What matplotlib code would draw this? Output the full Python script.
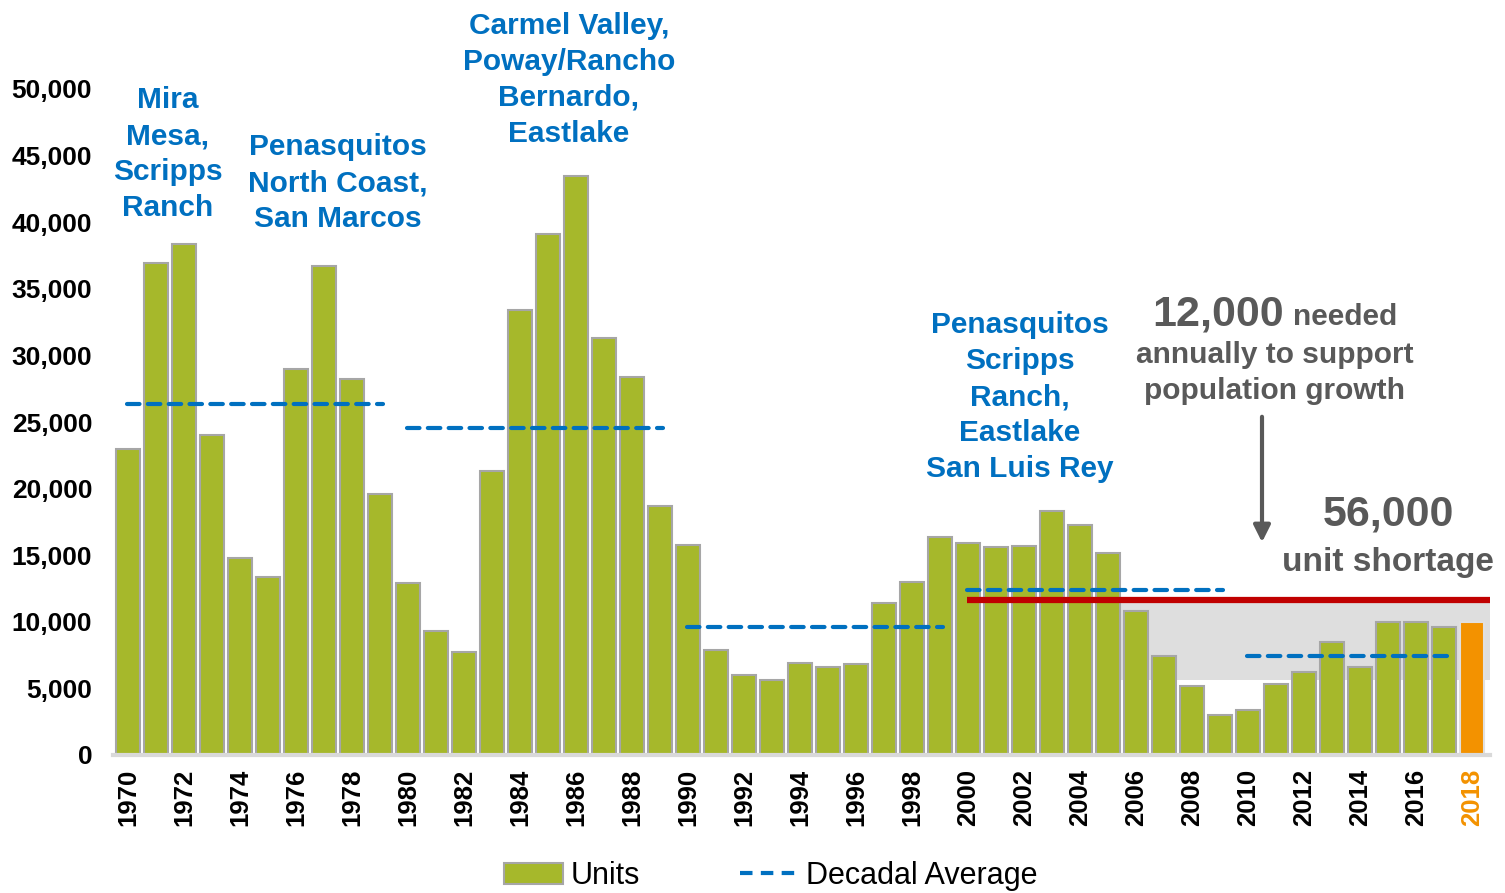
import matplotlib.pyplot as plt
import numpy as np
from matplotlib.patches import Patch, FancyArrowPatch
from matplotlib.lines import Line2D

plt.rcParams['font.family'] = ['Liberation Sans', 'DejaVu Sans']

years = list(range(1970, 2019))
units = [23000, 36900, 38400, 24000, 14800, 13400, 29000, 36700, 28200, 19600,
         12900, 9300, 7700, 21300, 33400, 39100, 43500, 31300, 28400, 18700,
         15800, 7900, 6000, 5600, 6900, 6600, 6800, 11400, 13000, 16400,
         15900, 15600, 15700, 18300, 17300, 15200, 10800, 7400, 5200, 3000,
         3400, 5300, 6200, 8500, 6600, 10000, 10000, 9600, 10000]

# decadal averages: (start year, end year, value)
dec_start = [1970, 1980, 1990, 2000, 2010]
dec_end = [1979, 1989, 1999, 2009, 2017]
dec_avg = [26350, 24550, 9600, 12400, 7450]

needed = 11650
shortage_low = 5600
shortage_from = 2005.4

green = '#A6B82B'
orange = '#F39200'
blue = '#0070C0'
gray_txt = '#595959'

W, H = 1505, 893
fig = plt.figure(figsize=(W / 100, H / 100), dpi=100)
ax = fig.add_axes([113 / W, 1 - 755 / H, (1490 - 113) / W, (755 - 89) / H])

colors = [green] * (len(years) - 1) + [orange]
edges = ['#A6A6A6'] * (len(years) - 1) + ['#E0E0E0']
ax.bar(years, units, width=0.85, color=colors, edgecolor=edges, linewidth=1.5, zorder=2)

xr = 2018.65
ax.fill_between([shortage_from, xr], shortage_low, needed - 150, color='#DEDEDE', zorder=1, linewidth=0)
ax.plot([1999.95, xr], [needed, needed], color='#C00000', lw=4.5, zorder=4, solid_capstyle='butt')

for s, e, v in zip(dec_start, dec_end, dec_avg):
    ax.plot([s - 0.05, e + 0.1], [v, v], color=blue, lw=3, ls=(0, (3, 2)), zorder=5,
            dash_capstyle='round')

ax.set_xlim(1969.45, xr)
ax.set_ylim(0, 50000)
ax.set_yticks(range(0, 50001, 5000))
ax.set_yticklabels([f'{v:,}' for v in range(0, 50001, 5000)], fontsize=19, fontweight='bold')
ax.set_xticks(years[::2])
ax.set_xticklabels([str(y) for y in years[::2]], rotation=90, fontsize=18.5, fontweight='bold')
ax.get_xticklabels()[-1].set_color(orange)
ax.tick_params(axis='y', length=0, pad=15)
ax.tick_params(axis='x', length=0, pad=10)
for side in ['left', 'right', 'top']:
    ax.spines[side].set_visible(False)
ax.spines['bottom'].set_color('#D9D9D9')
ax.spines['bottom'].set_linewidth(3)
ax.spines['bottom'].set_zorder(3)


def ftext(x, y, s, **kw):
    fig.text(x / W, 1 - y / H, s, **kw)


lab = dict(color=blue, fontsize=21.5, fontweight='bold', ha='center', va='center', linespacing=1.36)
ftext(168, 154, 'Mira\nMesa,\nScripps\nRanch', **lab)
ftext(338, 183, 'Penasquitos\nNorth Coast,\nSan Marcos', **lab)
ftext(569, 80, 'Carmel Valley,\nPoway/Rancho\nBernardo,\nEastlake', **lab)
ftext(1020, 397, 'Penasquitos\nScripps\nRanch,\nEastlake\nSan Luis Rey', **lab)

ftext(1152, 325, '12,000', color=gray_txt, fontsize=31, fontweight='bold', ha='left', va='baseline')
ftext(1293, 325, 'needed', color=gray_txt, fontsize=21.5, fontweight='bold', ha='left', va='baseline')
ftext(1275, 373, 'annually to support\npopulation growth', color=gray_txt, fontsize=21.5,
      fontweight='bold', ha='center', va='center', linespacing=1.36)
ftext(1388, 515, '56,000', color=gray_txt, fontsize=31, fontweight='bold', ha='center', va='center')
ftext(1388, 562, 'unit shortage', color=gray_txt, fontsize=24, fontweight='bold', ha='center', va='center')

fig.add_artist(FancyArrowPatch(
    (1262 / W, 1 - 414 / H), (1262 / W, 1 - 545 / H), transform=fig.transFigure,
    arrowstyle='-|>,head_length=10,head_width=5', color='#595959', lw=3, mutation_scale=1))

handles = [Patch(facecolor=green, edgecolor='#A6A6A6', linewidth=1.5, label='Units'),
           Line2D([0], [0], color=blue, lw=3, ls=(0, (3, 2)), label='Decadal Average')]
fig.legend(handles=handles, loc='center', bbox_to_anchor=(771 / W, 1 - 876 / H), ncol=2,
           frameon=False, fontsize=22, handlelength=1.9, handleheight=0.7, columnspacing=3.3,
           handletextpad=0.25)

fig.savefig('out.png', dpi=100)
